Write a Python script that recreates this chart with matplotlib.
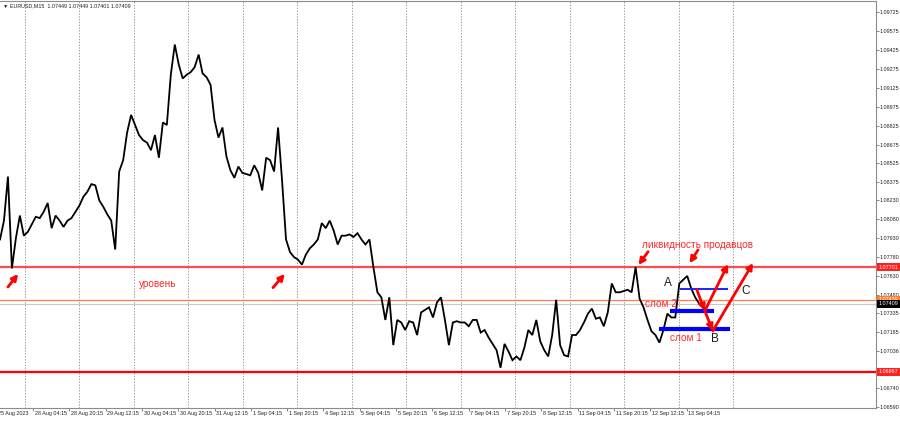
import matplotlib
matplotlib.use("Agg")
import matplotlib.pyplot as plt

plt.rcParams["font.family"] = ["Liberation Sans", "DejaVu Sans"]

# ---------------- data ----------------
BAR_STEP = 7          # one close value every 7 M15 bars
close = [
    1.0792, 1.0807, 1.0842, 1.0769, 1.0793, 1.0811, 1.0795, 1.0798, 1.0804, 1.0810,
    1.0809, 1.0814, 1.0821, 1.0801, 1.0811, 1.0807, 1.0802, 1.0807, 1.0809, 1.0814,
    1.0819, 1.0826, 1.0830, 1.0836, 1.0835, 1.0823, 1.0818, 1.0812, 1.0807, 1.0784,
    1.0846, 1.0855, 1.0877, 1.0891, 1.0883, 1.0875, 1.0871, 1.0869, 1.0863, 1.0875,
    1.0857, 1.0885, 1.0883, 1.0923, 1.0947, 1.0931, 1.0920, 1.0923, 1.0925, 1.0929,
    1.0939, 1.0924, 1.0921, 1.0915, 1.0887, 1.0873, 1.0881, 1.0858, 1.0847, 1.0841,
    1.0850, 1.0845, 1.0844, 1.0843, 1.0851, 1.0845, 1.0831, 1.0857, 1.0855, 1.0846,
    1.0881, 1.0839, 1.0792, 1.0782, 1.0778, 1.0776, 1.0772, 1.0780, 1.0785, 1.0788,
    1.0792, 1.0805, 1.0801, 1.0807, 1.0799, 1.0788, 1.0795, 1.0795, 1.0796, 1.0794,
    1.0797, 1.0792, 1.0788, 1.0792, 1.0770, 1.0750, 1.0746, 1.0728, 1.0746, 1.0708,
    1.0728, 1.0726, 1.0720, 1.0727, 1.0726, 1.0716, 1.0734, 1.0736, 1.0738, 1.0730,
    1.0742, 1.0746, 1.0728, 1.0708, 1.0726, 1.0727, 1.0726, 1.0726, 1.0723, 1.0728,
    1.0728, 1.0718, 1.0720, 1.0714, 1.0709, 1.0704, 1.0690, 1.0709, 1.0703, 1.0696,
    1.0699, 1.0696, 1.0706, 1.0720, 1.0716, 1.0728, 1.0711, 1.0704, 1.0699, 1.0716,
    1.0744, 1.0708, 1.0700, 1.0699, 1.0716, 1.0716, 1.0720, 1.0726, 1.0733, 1.0737,
    1.0729, 1.0730, 1.0723, 1.0734, 1.0757, 1.0750, 1.0750, 1.0751, 1.0752, 1.0750,
    1.0770, 1.0745, 1.0738, 1.0728, 1.0719, 1.0716, 1.0710, 1.0720, 1.0733, 1.0730,
    1.0730, 1.0757, 1.0760, 1.0763, 1.0753, 1.0746, 1.0741,
]

time_labels = [
    "25 Aug 2023", "28 Aug 04:15", "28 Aug 20:15", "29 Aug 12:15", "30 Aug 04:15",
    "30 Aug 20:15", "31 Aug 12:15", "1 Sep 04:15", "1 Sep 20:15", "4 Sep 12:15",
    "5 Sep 04:15", "5 Sep 20:15", "6 Sep 12:15", "7 Sep 04:15", "7 Sep 20:15",
    "8 Sep 12:15", "11 Sep 04:15", "11 Sep 20:15", "12 Sep 12:15", "13 Sep 04:15",
]
LABEL_EVERY, LABEL_FIRST = 64, -6      # bars
GRID_EVERY, GRID_FIRST, GRID_COUNT = 96, 44, 14

price_labels = [
    "1.09725", "1.09575", "1.09425", "1.09275", "1.09125", "1.08975", "1.08825",
    "1.08675", "1.08525", "1.08375", "1.08230", "1.08080", "1.07930", "1.07780",
    "1.07630", "1.07480", "1.07335", "1.07185", "1.07036", "1.06740", "1.06590",
]

level_high = 1.07701
level_mid = 1.07439
bid_price = 1.07409
level_low = 1.06867
header = "\u25bc EURUSD,M15  1.07449 1.07449 1.07401 1.07409"

break_levels = [1.07526, 1.07352, 1.07206]   # thin, слом 2, слом 1

# ---------------- layout ----------------
W, H = 900, 422
PX_PER_BAR = 0.5675
AX_RIGHT_PX, AX_TOP_PX, AX_BOT_PX = 876, 1, 408
FS = 3.9

fig = plt.figure(figsize=(W / 100, H / 100), dpi=100)
fig.patch.set_facecolor("white")
ax = fig.add_axes([0, (H - AX_BOT_PX) / H, AX_RIGHT_PX / W, (AX_BOT_PX - AX_TOP_PX) / H])
ax.set_facecolor("white")
ax.set_xlim(0, AX_RIGHT_PX / PX_PER_BAR)
ax.set_ylim(1.06580, 1.09816)

for s in ax.spines.values():
    s.set_color("#8c8c8c")
    s.set_linewidth(0.8)
ax.spines["left"].set_visible(False)

# grid
for j in range(GRID_COUNT):
    ax.axvline(GRID_FIRST + GRID_EVERY * j, color="#8a8a8a", lw=0.6,
               linestyle=(0, (1.6, 1.8)), zorder=1)

# price line
bars = [i * BAR_STEP for i in range(len(close))]
ax.plot(bars, close, color="black", lw=1.3, zorder=4, solid_joinstyle="miter")

# horizontal levels
ax.axhline(level_high, color="#ff4a4a", lw=1.6, zorder=3)
ax.axhline(level_mid, color="#ff7f50", lw=0.9, zorder=3)
ax.axhline(bid_price, color="#c8c8c8", lw=0.8, zorder=2)
ax.axhline(level_low, color="#ff0000", lw=1.6, zorder=3)

# blue break levels
ax.hlines(break_levels[0], 1198, 1283, color="#1f1fff", lw=1.4, zorder=5)
ax.hlines(break_levels[1], 1181, 1258, color="#0000ff", lw=3.0, zorder=5)
ax.hlines(break_levels[2], 1161, 1286, color="#0000ff", lw=3.0, zorder=5)

# arrows
def arrow(tail, head, lw=2.0, ms=9):
    ax.annotate("", xy=head, xytext=tail,
                arrowprops=dict(arrowstyle="-|>", color="#ff0000", lw=lw,
                                mutation_scale=ms, shrinkA=0, shrinkB=0),
                zorder=6)

arrow((14, 1.07542), (32, 1.07646))
arrow((481, 1.07537), (502, 1.07646))
arrow((1142, 1.07823), (1125, 1.07717))
arrow((1230, 1.07837), (1215, 1.07731))
arrow((1228, 1.07519), (1242, 1.07352))
arrow((1242, 1.07352), (1256, 1.07193))
arrow((1242, 1.07352), (1283, 1.07725))
arrow((1256, 1.07193), (1327, 1.07733))

# annotation texts
red_txt = "#ff2a2a"
ax.text(278, 1.07566, "уровень", color=red_txt, fontsize=7.2, ha="center", va="center", zorder=7)
ax.text(1229, 1.07876, "ликвидность продавцов", color=red_txt, fontsize=7.2,
        ha="center", va="center", zorder=7)
ax.text(1165, 1.07407, "слом 2", color=red_txt, fontsize=7.2, ha="center", va="center", zorder=7)
ax.text(1209, 1.07135, "слом 1", color=red_txt, fontsize=7.2, ha="center", va="center", zorder=7)
for lbl, xb, yp in (("A", 1177, 1.07574), ("B", 1260, 1.07129), ("C", 1314, 1.07513)):
    ax.text(xb, yp, lbl, color="#1a1a1a", fontsize=8.5, ha="center", va="center", zorder=7)

# right price axis
ax.yaxis.tick_right()
ax.set_yticks([float(v) for v in price_labels])
ax.set_yticklabels(price_labels)
ax.tick_params(axis="y", length=2.0, width=0.5, pad=0.8, labelsize=FS,
               color="#555555", labelcolor="#222222")

# bottom time axis
tick_pos = [LABEL_FIRST + LABEL_EVERY * k for k in range(len(time_labels))]
ax.set_xticks([p for p in tick_pos if p >= 0])
ax.set_xticklabels([])
ax.tick_params(axis="x", length=2.2, width=0.5, color="#555555")
xt = ax.get_xaxis_transform()
for p, lbl in zip(tick_pos, time_labels):
    ax.text(p + 3.0, -5.5 / (AX_BOT_PX - AX_TOP_PX), lbl, transform=xt, fontsize=FS,
            color="#222222", ha="left", va="center", clip_on=False)

# price boxes on the axis
yt = ax.get_yaxis_transform()
def box(price, text, fc, tc="white"):
    ax.text(1.0 + 3.0 / AX_RIGHT_PX, price, text, transform=yt, fontsize=FS, color=tc,
            ha="left", va="center", clip_on=False, zorder=20,
            bbox=dict(boxstyle="square,pad=0.3", fc=fc, ec="none"))

box(level_high, "1.07701", "#ff2020")
box(level_mid, "1.07439", "#ff7f2a")
box(bid_price, "1.07409", "#000000")
box(level_low, "1.06867", "#ff2020")

# header
fig.text(3 / W, 1 - 6 / H, header, fontsize=FS, color="#222222", ha="left", va="center")

fig.savefig("out.png", dpi=100, facecolor="white")
